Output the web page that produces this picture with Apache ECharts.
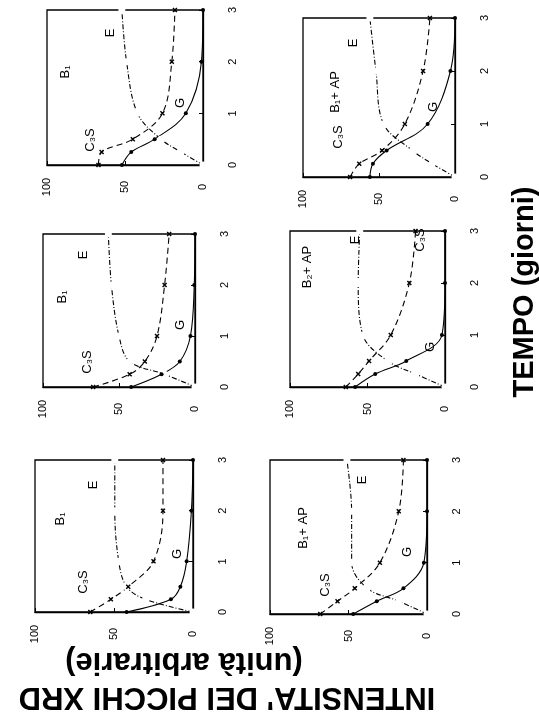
<!DOCTYPE html>
<html>
<head>
<meta charset="utf-8">
<script src="https://cdn.jsdelivr.net/npm/echarts@6/dist/echarts.min.js"></script>
<style>
html,body{margin:0;padding:0;background:#fff;}
#chart{width:539px;height:724px;}
</style>
</head>
<body>
<div id="chart"></div>
<script>
// ---- data (time in days, intensity in arbitrary units) ----
const times = [0, 0.25, 0.5, 1, 2, 3];
const timeTicks = [0, 1, 2, 3];
const intensityTicks = [0, 50, 100];

const panelNames = ['B₁', 'B₁+ AP', 'B₁', 'B₂+ AP', 'B₁', 'B₁+ AP'];

const p1_E   = [0, 14, 27, 42, 49, 52];
const p1_C3S = [67, 65, 45, 26, 20, 18];
const p1_G   = [52, 46, 31, 11, 1, 0];

const p2_E   = [0, 15, 28, 47, 52, 56];
const p2_C3S = [69, 63, 48, 33, 21, 16.5];
const p2_G   = [56, 54, 45, 18, 3, 0];

const p3_E   = [0, 20, 43, 50, 55, 57];
const p3_C3S = [67, 43, 33, 25, 20, 17];
const p3_G   = [42, 22, 10, 3, 0.5, 0];

const p4_E   = [0, 19, 37, 53, 56, 55];
const p4_C3S = [64, 56, 49, 35, 23, 19];
const p4_G   = [58, 45, 25, 2, 0, 0];

const p5_E   = [0, 30, 42, 47, 49.5, 49.5];
const p5_C3S = [65, 52, 41, 25, 19, 19];
const p5_G   = [42, 14, 8, 4, 1, 0];

const p6_E   = [0, 18, 38, 48, 48, 51];
const p6_C3S = [68, 57, 46, 30, 18, 15];
const p6_G   = [47, 32, 15, 2, 0, 0];

const panelE   = [p1_E, p2_E, p3_E, p4_E, p5_E, p6_E];
const panelC3S = [p1_C3S, p2_C3S, p3_C3S, p4_C3S, p5_C3S, p6_C3S];
const panelG   = [p1_G, p2_G, p3_G, p4_G, p5_G, p6_G];

// ---- layout (pixel boxes of each panel) ----
const boxes = [
  {l: 47,  t: 10,  w: 156, h: 155},
  {l: 303, t: 18,  w: 152, h: 159},
  {l: 43,  t: 234, w: 152, h: 153},
  {l: 290, t: 231, w: 155, h: 156},
  {l: 35,  t: 460, w: 158, h: 152},
  {l: 270, t: 460, w: 157, h: 154}
];
// label positions relative to panel box (x,y in px)
const labelPos = [
  {name:[18,62],  E:[63,23],  C:[43,130], G:[133,93]},
  {name:[32,74],  E:[50,25],  C:[35,119], G:[130,89]},
  {name:[19,63],  E:[40,21],  C:[44,128], G:[137,91]},
  {name:[17,36],  E:[65,9],   C:[130,9],  G:[140,116]},
  {name:[25,59],  E:[58,25],  C:[48,122], G:[142,94]},
  {name:[33,68],  E:[92,20],  C:[55,125], G:[137,92]}
];

const FONT = '"Liberation Sans", Arial, sans-serif';
const crossPath = 'path://M0,1L1,0L5,4L4,5Z M4,0L5,1L1,5L0,4Z';

const grids = [], xAxes = [], yAxes = [], series = [], graphics = [];
boxes.forEach((b, i) => {
  grids.push({left: b.l, top: b.t, width: b.w, height: b.h, show: true,
    borderColor: '#000', borderWidth: 1.3, backgroundColor: 'transparent'});
  xAxes.push({gridIndex: i, type: 'value', min: 0, max: 100, interval: 50, inverse: true,
    position: 'bottom',
    axisLine: {show: true, lineStyle: {color: '#000', width: 1.3}},
    axisTick: {show: true, inside: true, length: 4, lineStyle: {color: '#000'}},
    axisLabel: {rotate: 90, margin: 22, align: 'center', verticalAlign: 'middle',
      fontSize: 11, color: '#000', fontFamily: FONT,
      formatter: v => intensityTicks.includes(v) ? String(v) : ''},
    splitLine: {show: false}});
  yAxes.push({gridIndex: i, type: 'value', min: 0, max: 3, interval: 1,
    position: 'right',
    axisLine: {show: true, lineStyle: {color: '#000', width: 1.3}},
    axisTick: {show: true, inside: true, length: 4, lineStyle: {color: '#000'}},
    axisLabel: {rotate: 90, margin: 30, align: 'center', verticalAlign: 'middle',
      fontSize: 11, color: '#000', fontFamily: FONT,
      formatter: v => timeTicks.includes(v) ? String(v) : ''},
    splitLine: {show: false}});

  const mk = arr => arr.map((v, k) => [v, times[k]]);
  series.push({type: 'line', name: 'E', xAxisIndex: i, yAxisIndex: i, data: mk(panelE[i]),
    smooth: 0.35, symbol: 'emptyCircle', symbolSize: 5,
    lineStyle: {color: '#000', width: 1.1, type: [5, 2, 1, 2]},
    itemStyle: {color: '#fff', borderColor: '#000', borderWidth: 1}, silent: true, animation: false});
  series.push({type: 'line', name: 'C3S', xAxisIndex: i, yAxisIndex: i, data: mk(panelC3S[i]),
    smooth: 0.35, symbol: crossPath, symbolSize: 5,
    lineStyle: {color: '#000', width: 1.1, type: [6, 4]},
    itemStyle: {color: '#000'}, silent: true, animation: false});
  series.push({type: 'line', name: 'G', xAxisIndex: i, yAxisIndex: i, data: mk(panelG[i]),
    smooth: 0.35, symbol: 'circle', symbolSize: 4,
    lineStyle: {color: '#000', width: 1.1, type: 'solid'},
    itemStyle: {color: '#000'}, silent: true, animation: false});

  const lp = labelPos[i];
  const txt = (s, p, size) => ({type: 'text', x: b.l + p[0], y: b.t + p[1], rotation: Math.PI / 2,
    style: {text: s, fontSize: size, fontFamily: FONT, fill: '#000', align: 'center', verticalAlign: 'middle'}});
  graphics.push(txt(panelNames[i], lp.name, 13));
  graphics.push(txt('E', lp.E, 13));
  graphics.push(txt('C₃S', lp.C, 13));
  graphics.push(txt('G', lp.G, 13));
});

graphics.push({type: 'text', x: 525, y: 292, rotation: Math.PI / 2,
  style: {text: 'TEMPO (giorni)', fontSize: 29, fontWeight: 'bold', fontFamily: FONT, fill: '#000',
    align: 'center', verticalAlign: 'middle'}});
graphics.push({type: 'text', x: 227, y: 697, rotation: Math.PI,
  style: {text: "INTENSITA' DEI PICCHI XRD", fontSize: 31, fontWeight: 'bold', fontFamily: FONT, fill: '#000',
    align: 'center', verticalAlign: 'middle'}});
graphics.push({type: 'text', x: 184, y: 662, rotation: Math.PI,
  style: {text: '(unità arbitrarie)', fontSize: 31, fontWeight: 'bold', fontFamily: FONT, fill: '#000',
    align: 'center', verticalAlign: 'middle'}});

const chart = echarts.init(document.getElementById('chart'), null, {renderer: 'canvas'});
chart.setOption({
  backgroundColor: '#fff',
  animation: false,
  grid: grids, xAxis: xAxes, yAxis: yAxes, series: series,
  graphic: graphics
});
</script>
</body>
</html>
